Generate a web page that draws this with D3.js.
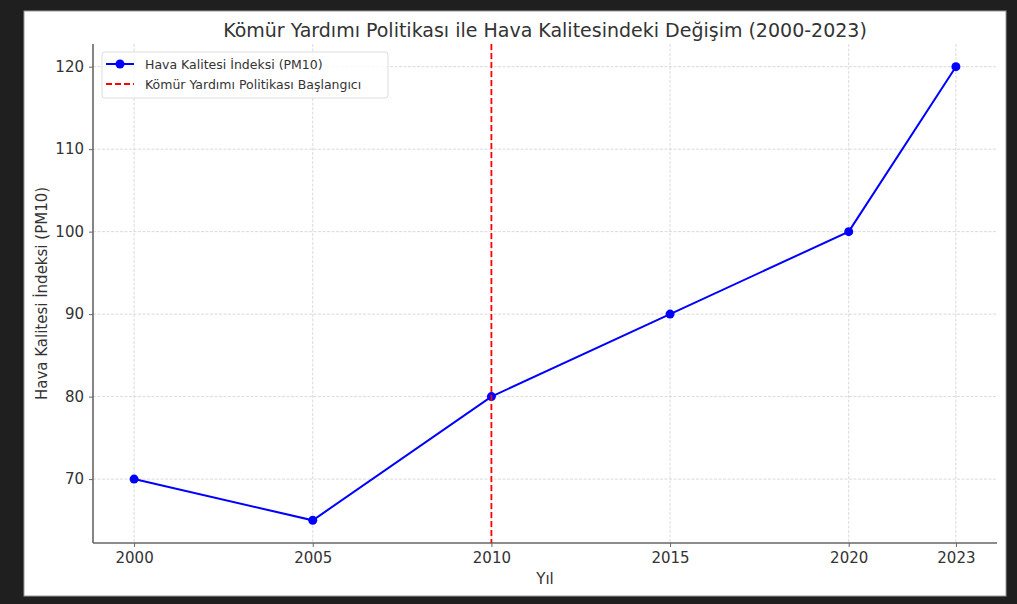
<!DOCTYPE html>
<html>
<head>
<meta charset="utf-8">
<script src="https://cdnjs.cloudflare.com/ajax/libs/d3/7.8.5/d3.min.js"></script>
<style>
  body { margin: 0; background: #1f1f1f; }
  svg { display: block; }
  text { font-family: "DejaVu Sans", sans-serif; fill: #333; }
</style>
</head>
<body>
<div id="chart"></div>
<script>
// data
var years = [2000, 2005, 2010, 2015, 2020, 2023];
var pm10 = [70, 65, 80, 90, 100, 120];
var policyYear = 2010;
var yTicks = [70, 80, 90, 100, 110, 120];
var title = "Kömür Yardımı Politikası ile Hava Kalitesindeki Değişim (2000-2023)";
var xTitle = "Yıl";
var yTitle = "Hava Kalitesi İndeksi (PM10)";
var legendNames = ["Hava Kalitesi İndeksi (PM10)", "Kömür Yardımı Politikası Başlangıcı"];

var W = 1017, H = 604;
var svg = d3.select("#chart").append("svg").attr("width", W).attr("height", H);

// dark frame with the white figure inside
svg.append("rect").attr("width", W).attr("height", H).attr("fill", "#1f1f1f");
svg.append("rect").attr("x", 24).attr("y", 11).attr("width", 982).attr("height", 585)
  .attr("fill", "#fff").attr("stroke", "#999").attr("stroke-width", 1);

var pLeft = 93, pRight = 997, pTop = 44, pBottom = 543;
// matplotlib style 5% margins
var xPad = (2023 - 2000) * 0.05, yPad = (120 - 65) * 0.05;
var x = d3.scaleLinear().domain([2000 - xPad, 2023 + xPad]).range([pLeft, pRight]);
var y = d3.scaleLinear().domain([65 - yPad, 120 + yPad]).range([pBottom, pTop]);

// grid
var grid = svg.append("g").attr("stroke", "#d0d0d0").attr("stroke-width", 0.8).attr("stroke-dasharray", "3,1.5");
grid.selectAll(".gx").data(years).enter().append("line")
  .attr("x1", d => x(d)).attr("x2", d => x(d)).attr("y1", pTop).attr("y2", pBottom);
grid.selectAll(".gy").data(yTicks).enter().append("line")
  .attr("x1", pLeft).attr("x2", pRight).attr("y1", d => y(d)).attr("y2", d => y(d));

// axes
var xAxis = svg.append("g").attr("transform", "translate(0," + pBottom + ")")
  .call(d3.axisBottom(x).tickValues(years).tickFormat(d3.format("d")).tickSize(4).tickPadding(5));
var yAxis = svg.append("g").attr("transform", "translate(" + pLeft + ",0)")
  .call(d3.axisLeft(y).tickValues(yTicks).tickSize(4).tickPadding(5));
[xAxis, yAxis].forEach(function (a) {
  a.select(".domain").attr("stroke", "#666").attr("stroke-width", 1.6);
  a.selectAll(".tick line").attr("stroke", "#666").attr("stroke-width", 1);
  a.selectAll(".tick text").attr("font-size", 15).attr("fill", "#333")
    .attr("font-family", "DejaVu Sans, sans-serif");
});
// strip the outer tick ends of the domain path
xAxis.select(".domain").attr("d", "M" + pLeft + ",0H" + pRight);
yAxis.select(".domain").attr("d", "M0," + pTop + "V" + pBottom);

// series
var pts = years.map((d, i) => [d, pm10[i]]);
svg.append("path").datum(pts)
  .attr("fill", "none").attr("stroke", "#0000ff").attr("stroke-width", 2)
  .attr("d", d3.line().x(d => x(d[0])).y(d => y(d[1])));
svg.selectAll(".pt").data(pts).enter().append("circle")
  .attr("cx", d => x(d[0])).attr("cy", d => y(d[1])).attr("r", 4.5).attr("fill", "#0000ff");

// policy start line, drawn over the series
svg.append("line").attr("x1", x(policyYear)).attr("x2", x(policyYear))
  .attr("y1", pTop).attr("y2", pBottom)
  .attr("stroke", "#ff0000").attr("stroke-width", 1.8).attr("stroke-dasharray", "6,3");

// titles
svg.append("text").attr("x", (pLeft + pRight) / 2).attr("y", 37).attr("text-anchor", "middle")
  .attr("font-size", 19).text(title);
svg.append("text").attr("x", (pLeft + pRight) / 2).attr("y", 584).attr("text-anchor", "middle")
  .attr("font-size", 15).text(xTitle);
svg.append("text").attr("transform", "translate(47," + (pTop + pBottom) / 2 + ") rotate(-90)")
  .attr("text-anchor", "middle").attr("font-size", 15).text(yTitle);

// legend
var lg = svg.append("g").attr("transform", "translate(102,52)");
lg.append("rect").attr("width", 286).attr("height", 46).attr("rx", 3)
  .attr("fill", "#fff").attr("fill-opacity", 0.8).attr("stroke", "#ddd");
lg.append("line").attr("x1", 4).attr("x2", 32).attr("y1", 12).attr("y2", 12)
  .attr("stroke", "#0000ff").attr("stroke-width", 2);
lg.append("circle").attr("cx", 18).attr("cy", 12).attr("r", 4.5).attr("fill", "#0000ff");
lg.append("line").attr("x1", 4).attr("x2", 32).attr("y1", 32).attr("y2", 32)
  .attr("stroke", "#ff0000").attr("stroke-width", 1.8).attr("stroke-dasharray", "6,3");
lg.selectAll(".lt").data(legendNames).enter().append("text")
  .attr("x", 43).attr("y", (d, i) => 16.5 + i * 20).attr("font-size", 12.5).text(d => d);
</script>
</body>
</html>
